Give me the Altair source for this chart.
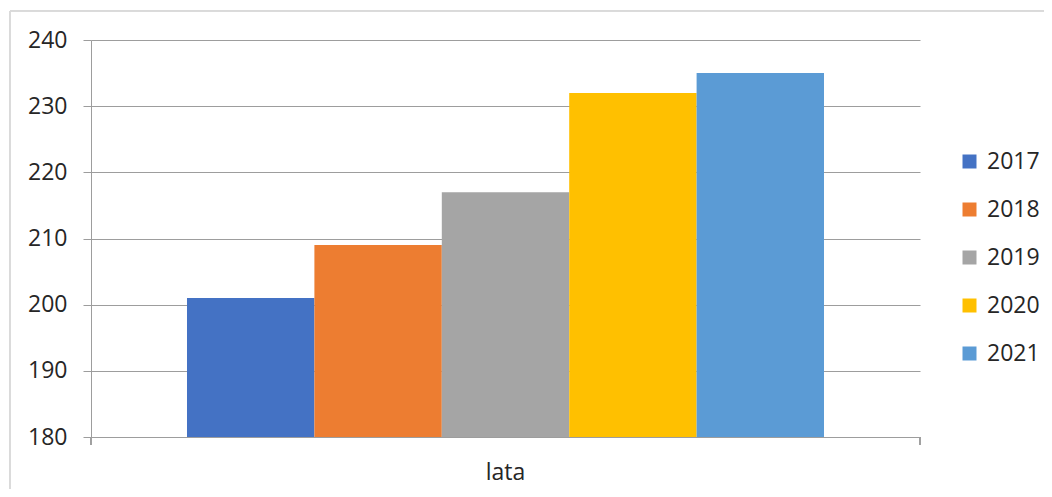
import altair as alt
import pandas as pd

years = ["2017", "2018", "2019", "2020", "2021"]
values = [201, 209, 217, 232, 235]
categories = ["lata", "lata", "lata", "lata", "lata"]
colors = ["#4472C4", "#ED7D31", "#A5A5A5", "#FFC000", "#5B9BD5"]
y_ticks = [180, 190, 200, 210, 220, 230, 240]

df = pd.DataFrame({"kategoria": categories, "rok": years, "wartosc": values})

FONT = "Open Sans"
TEXT = "#262626"
GRID = "#9d9d9d"
W, H = 829, 397

bars = alt.Chart(df).mark_bar().encode(
    x=alt.X(
        "kategoria:N",
        scale=alt.Scale(paddingInner=0, paddingOuter=0.1507),
        axis=alt.Axis(
            title=None, labelAngle=0, ticks=False, domain=True,
            domainColor=GRID, labelFontSize=23, labelFont=FONT,
            labelColor=TEXT, labelPadding=24,
        ),
    ),
    xOffset=alt.XOffset("rok:N", scale=alt.Scale(paddingInner=0, paddingOuter=0)),
    y=alt.Y(
        "wartosc:Q",
        scale=alt.Scale(domain=[180, 240], zero=False, nice=False),
        axis=alt.Axis(
            title=None, values=y_ticks, tickSize=8, tickColor=GRID,
            domainColor=GRID, gridColor=GRID, grid=True,
            labelFontSize=23, labelFont=FONT, labelColor=TEXT, labelPadding=16,
        ),
    ),
    y2=alt.datum(180),
    color=alt.Color(
        "rok:N",
        scale=alt.Scale(domain=years, range=colors),
        legend=alt.Legend(
            title=None, orient="none", legendX=867, legendY=110,
            symbolType="square", symbolSize=196, symbolStrokeWidth=0,
            labelFontSize=23, labelFont=FONT, labelColor=TEXT,
            labelOffset=6, rowPadding=24, padding=0,
        ),
    ),
)

tick_left = alt.Chart(df).mark_rule(color=GRID).encode(
    x=alt.value(0), y=alt.value(H), y2=alt.value(H + 8)
)
tick_right = alt.Chart(df).mark_rule(color=GRID).encode(
    x=alt.value(W), y=alt.value(H), y2=alt.value(H + 8)
)
border_left = alt.Chart(df).mark_rule(color="#D9D9D9").encode(
    x=alt.value(-81), y=alt.value(-29), y2=alt.value(500)
)
border_top = alt.Chart(df).mark_rule(color="#D9D9D9").encode(
    x=alt.value(-81), x2=alt.value(1000), y=alt.value(-29)
)

chart = alt.layer(bars, tick_left, tick_right, border_left, border_top).properties(
    width=W, height=H,
    autosize=alt.AutoSizeParams(type="none"),
    padding={"left": 83, "top": 32, "right": 124, "bottom": 52},
).configure_view(stroke=None)

chart.save("out.html", embed_options={"renderer": "svg", "actions": False})
